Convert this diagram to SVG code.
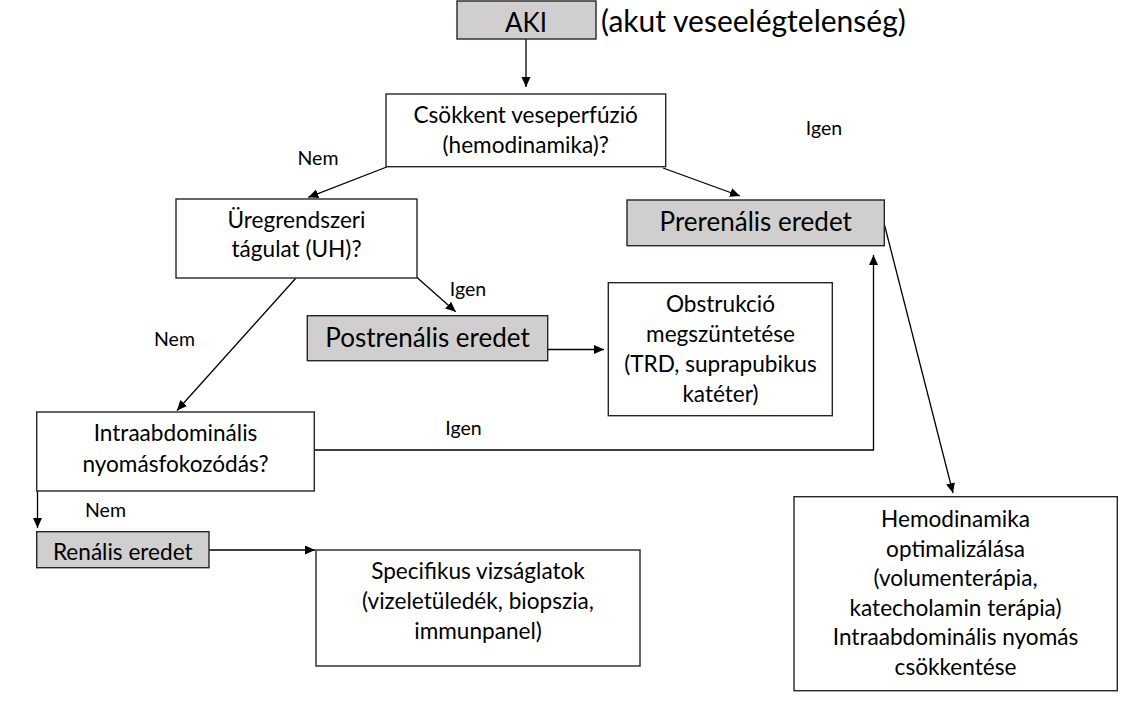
<svg xmlns="http://www.w3.org/2000/svg" width="1126" height="706" viewBox="0 0 1126 706">
<style>
  .box { fill: #ffffff; stroke: #262626; stroke-width: 1.4; }
  .gbox { fill: #d0cece; stroke: #262626; stroke-width: 1.4; }
  text { font-family: Lato, "Open Sans", "Liberation Sans", sans-serif; fill: #000000; text-anchor: middle; }
  .t { font-size: 22.6px; }
  .tb { font-size: 26px; }
  .lbl { font-size: 19.5px; }
  .conn { fill: none; stroke: #000000; stroke-width: 1.3; marker-end: url(#arr); }
</style>
<defs>
  <marker id="arr" markerUnits="userSpaceOnUse" markerWidth="11" markerHeight="10" refX="10" refY="4.5" orient="auto">
    <path d="M0,0 L10,4.5 L0,9 z" fill="#000000"/>
  </marker>
</defs>
<rect width="1126" height="706" fill="#ffffff"/>

<g id="connectors">
  <line class="conn" x1="526" y1="39" x2="526" y2="87"/>
  <line class="conn" x1="386.7" y1="167" x2="308.3" y2="197.3"/>
  <line class="conn" x1="663" y1="168" x2="740" y2="196"/>
  <line class="conn" x1="884" y1="223" x2="953" y2="493"/>
  <line class="conn" x1="416.7" y1="277.3" x2="455.7" y2="311.7"/>
  <line class="conn" x1="296" y1="278" x2="177" y2="410.5"/>
  <line class="conn" x1="548" y1="349.5" x2="604" y2="349.5"/>
  <polyline class="conn" points="314,450 873.5,450 873.5,255"/>
  <line class="conn" x1="37.5" y1="461" x2="37.5" y2="528"/>
  <line class="conn" x1="209" y1="550" x2="315" y2="550"/>
  <text class="lbl" x="824" y="135">Igen</text>
  <text class="lbl" x="318" y="165">Nem</text>
  <text class="lbl" x="468" y="296">Igen</text>
  <text class="lbl" x="174.5" y="346">Nem</text>
  <text class="lbl" x="463.5" y="435">Igen</text>
  <text class="lbl" x="105.5" y="517.3">Nem</text>
</g>

<g id="aki">
  <rect class="gbox" x="457" y="1" width="139" height="38"/>
  <text class="tb" x="526" y="31.5">AKI</text>
  <text x="601" y="31.5" style="font-size:30px;text-anchor:start">(akut veseelégtelenség)</text>
</g>

<g id="csokkent">
  <rect class="box" x="386" y="94" width="279.7" height="72.7"/>
  <text class="t" x="525.7" y="123.3">Csökkent veseperfúzió</text>
  <text class="t" x="525.7" y="152.7">(hemodinamika)?</text>
</g>

<g id="uregrendszeri">
  <rect class="box" x="176" y="199" width="241" height="79"/>
  <text class="t" x="296.5" y="227.7">Üregrendszeri</text>
  <text class="t" x="296.5" y="256.7">tágulat (UH)?</text>
</g>

<g id="prerenalis">
  <rect class="gbox" x="627" y="200" width="257.3" height="45.7"/>
  <text class="tb" x="755.7" y="231">Prerenális eredet</text>
</g>

<g id="postrenalis">
  <rect class="gbox" x="307.3" y="315.7" width="240.4" height="45"/>
  <text class="tb" x="427.5" y="347.3">Postrenális eredet</text>
</g>

<g id="obstrukcio">
  <rect class="box" x="608.3" y="282.7" width="224" height="133"/>
  <text class="t" x="720.5" y="311.7">Obstrukció</text>
  <text class="t" x="720.5" y="341.7">megszüntetése</text>
  <text class="t" x="720.5" y="371.7">(TRD, suprapubikus</text>
  <text class="t" x="720.5" y="401.7">katéter)</text>
</g>

<g id="intraabdominalis">
  <rect class="box" x="36.7" y="412" width="277.6" height="79"/>
  <text class="t" x="175.5" y="441">Intraabdominális</text>
  <text class="t" x="175.5" y="471.7">nyomásfokozódás?</text>
</g>

<g id="renalis">
  <rect class="gbox" x="36.7" y="531.7" width="172.3" height="36"/>
  <text class="t" x="122.8" y="560">Renális eredet</text>
</g>

<g id="specifikus">
  <rect class="box" x="316" y="550" width="324" height="116"/>
  <text class="t" x="478" y="579">Specifikus vizságlatok</text>
  <text class="t" x="478" y="609">(vizeletüledék, biopszia,</text>
  <text class="t" x="478" y="639">immunpanel)</text>
</g>

<g id="hemodinamika">
  <rect class="box" x="794" y="496.7" width="323.3" height="194"/>
  <text class="t" x="955.5" y="526.7">Hemodinamika</text>
  <text class="t" x="955.5" y="556.7">optimalizálása</text>
  <text class="t" x="955.5" y="586">(volumenterápia,</text>
  <text class="t" x="955.5" y="616">katecholamin terápia)</text>
  <text class="t" x="955.5" y="645">Intraabdominális nyomás</text>
  <text class="t" x="955.5" y="675">csökkentése</text>
</g>
</svg>
